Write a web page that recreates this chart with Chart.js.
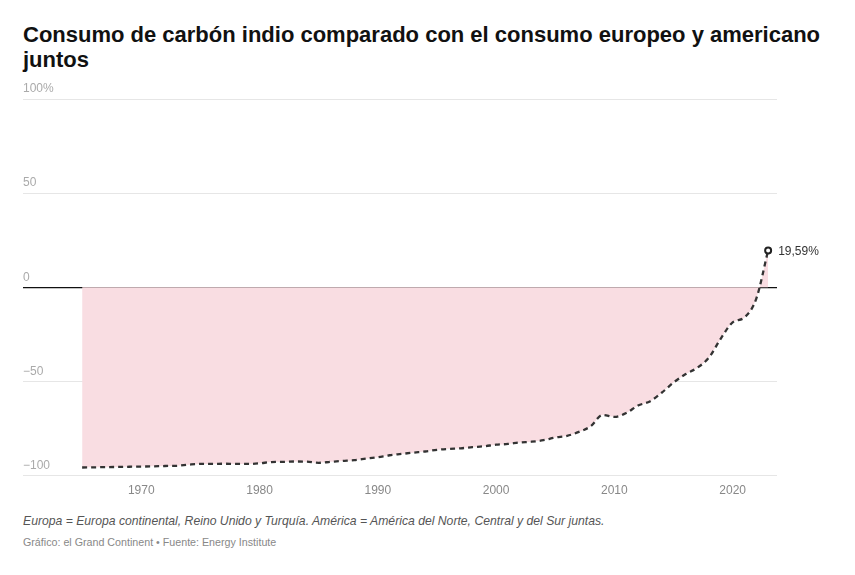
<!DOCTYPE html>
<html>
<head>
<meta charset="utf-8">
<script src="https://cdn.jsdelivr.net/npm/chart.js@4"></script>
<style>
  body { margin: 0; background: #fff; font-family: Arial, "Liberation Sans", sans-serif; }
  #wrap { position: relative; width: 855px; height: 575px; }
  h1 { position: absolute; left: 23px; top: 22px; margin: 0; width: 830px; font-size: 22px; line-height: 25px; font-weight: bold; color: #111; }
  #chart-box { position: absolute; left: 0; top: 70px; width: 855px; height: 441px; }
  .note { position: absolute; left: 23px; top: 514px; font-size: 12.2px; font-style: italic; color: #555; }
  .source { position: absolute; left: 23px; top: 536px; font-size: 10.7px; color: #888; }
</style>
</head>
<body>
<div id="wrap">
  <h1>Consumo de carbón indio comparado con el consumo europeo y americano juntos</h1>
  <div id="chart-box"><canvas id="mainChart"></canvas></div>
  <div class="note">Europa = Europa continental, Reino Unido y Turquía. América = América del Norte, Central y del Sur juntas.</div>
  <div class="source">Gráfico: el Grand Continent • Fuente: Energy Institute</div>
</div>
<script>
const years = [1965, 1966, 1967, 1968, 1969, 1970, 1971, 1972, 1973, 1974,
    1975, 1976, 1977, 1978, 1979, 1980, 1981, 1982, 1983, 1984,
    1985, 1986, 1987, 1988, 1989, 1990, 1991, 1992, 1993, 1994,
    1995, 1996, 1997, 1998, 1999, 2000, 2001, 2002, 2003, 2004,
    2005, 2006, 2007, 2008, 2009, 2010, 2011, 2012, 2013, 2014,
    2015, 2016, 2017, 2018, 2019, 2020, 2021, 2022, 2023];
const gapPct = [-95.7, -95.6, -95.5, -95.4, -95.3, -95.2, -95.1, -94.9, -94.8, -94.2,
    -93.8, -93.8, -93.7, -93.8, -93.8, -93.5, -92.8, -92.7, -92.5, -92.6,
    -93.2, -92.7, -92.2, -91.8, -91.0, -90.2, -89.2, -88.5, -87.8, -87.2,
    -86.3, -85.8, -85.5, -84.9, -84.4, -83.6, -83.2, -82.4, -82.0, -81.2,
    -79.8, -78.9, -76.8, -73.8, -67.8, -68.8, -66.8, -62.8, -60.6, -56.0,
    -50.6, -46.2, -42.8, -37.3, -27.2, -18.6, -16.0, -6.0, 19.59];
const xTicks = [1970, 1980, 1990, 2000, 2010, 2020];
const yTicks = [-100, -50, 0, 50, 100];
const yTickLabels = ['\u2212100', '\u221250', '0', '50', '100%'];
const lastLabel = '19,59%';

// y labels above the grid lines, left aligned
const yLabelPlugin = {
    id: 'yLabels',
    afterDraw(chart) {
        const { ctx, chartArea, scales } = chart;
        ctx.save();
        ctx.font = '12px Arial, "Liberation Sans", sans-serif';
        ctx.fillStyle = '#aaa';
        ctx.textAlign = 'left';
        ctx.textBaseline = 'bottom';
        yTicks.forEach((v, i) => {
            ctx.fillText(yTickLabels[i], chartArea.left, scales.y.getPixelForValue(v) - 4);
        });
        // label for the last point
        const meta = chart.getDatasetMeta(0);
        const pt = meta.data[meta.data.length - 1];
        ctx.fillStyle = '#333';
        ctx.textBaseline = 'middle';
        ctx.fillText(lastLabel, pt.x + 10, pt.y + 1);
        ctx.restore();
    }
};

document.addEventListener('DOMContentLoaded', () => {
    const ctx = document.getElementById('mainChart').getContext('2d');
    const last = years.length - 1;
    new Chart(ctx, {
        type: 'line',
        data: {
            datasets: [{
                data: years.map((y, i) => ({ x: y, y: gapPct[i] })),
                borderColor: '#333',
                borderWidth: 2.3,
                borderDash: [5, 4],
                backgroundColor: '#f9dde2',
                fill: 'origin',
                tension: 0.4,
                cubicInterpolationMode: 'monotone',
                pointRadius: c => c.dataIndex === last ? 3 : 0,
                pointBorderWidth: 2,
                pointBorderColor: '#222',
                pointBackgroundColor: '#fff'
            }]
        },
        options: {
            responsive: true,
            maintainAspectRatio: false,
            animation: false,
            layout: { padding: { left: 23, right: 78, top: 29, bottom: 13 } },
            scales: {
                x: {
                    type: 'linear',
                    min: 1960,
                    max: 2023.75,
                    afterBuildTicks: s => { s.ticks = xTicks.map(v => ({ value: v })); },
                    grid: { display: false },
                    border: { display: false },
                    ticks: {
                        color: '#888',
                        font: { size: 12, family: 'Arial, "Liberation Sans", sans-serif' },
                        padding: 0,
                        maxRotation: 0,
                        callback: v => String(v)
                    }
                },
                y: {
                    min: -100,
                    max: 100,
                    afterBuildTicks: s => { s.ticks = yTicks.map(v => ({ value: v })); },
                    grid: {
                        color: c => c.tick.value === 0 ? '#111' : '#e6e6e6',
                        lineWidth: c => c.tick.value === 0 ? 1.2 : 1,
                        drawTicks: false
                    },
                    border: { display: false },
                    ticks: { display: false }
                }
            },
            plugins: {
                legend: { display: false },
                tooltip: { enabled: false }
            }
        },
        plugins: [yLabelPlugin]
    });
});
</script>
</body>
</html>
